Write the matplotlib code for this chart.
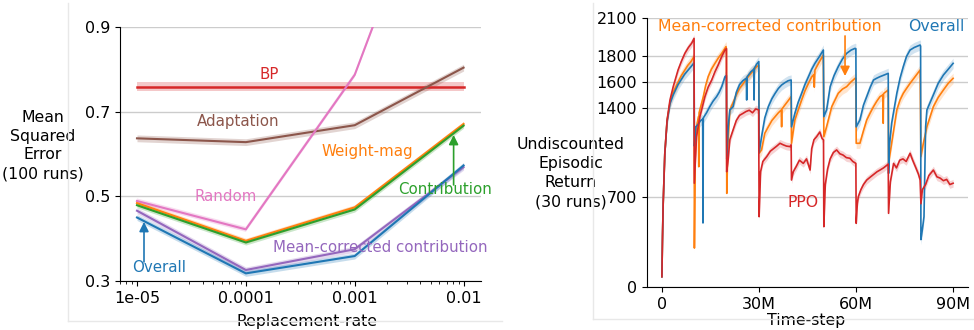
import numpy as np
import matplotlib
matplotlib.use("Agg")
import matplotlib.pyplot as plt
from matplotlib.lines import Line2D

# ---- left panel: MSE vs replacement-rate ----
rates = [1e-5, 1e-4, 1e-3, 1e-2]
bp_mse = [0.759, 0.759, 0.759, 0.759]
adaptation_mse = [0.637, 0.628, 0.668, 0.804]
random_mse = [0.489, 0.422, 0.787, 1.47]
weightmag_mse = [0.484, 0.395, 0.474, 0.671]
contribution_mse = [0.479, 0.391, 0.469, 0.667]
meancorr_mse = [0.466, 0.326, 0.375, 0.569]
overall_mse = [0.450, 0.318, 0.359, 0.573]
bp_err = 0.011
other_err = [0.008, 0.006, 0.006, 0.006, 0.007, 0.007]

# ---- right panel: episodic return vs time-step (millions) ----
ppo = [(0, 80), (0.2, 400), (0.4, 650), (0.9, 1040), (1.6, 1300), (2.5, 1460), (3.5, 1564), (5, 1694),
       (6, 1760), (7.1, 1824), (8.2, 1870), (9.2, 1903), (9.95, 1941),
       (10.02, 810), (10.7, 1173), (11.75, 1330), (13.3, 1486), (14.3, 1560), (15.4, 1616), (16.4, 1680),
       (17.4, 1733), (18.5, 1800), (19.5, 1850), (19.95, 1860),
       (20.02, 900), (20.5, 1000), (21, 1150), (22, 1226), (23, 1300), (24, 1340), (25.1, 1356), (26, 1370),
       (27, 1380), (28, 1360), (29, 1390), (29.9, 1382),
       (30.05, 549), (30.5, 900), (31.2, 980), (32.4, 1018), (33.5, 1060), (34.5, 1080), (35.5, 1100),
       (36.5, 1122), (37.5, 1110), (38.5, 1100), (39.6, 1096), (39.95, 1110),
       (40.05, 835), (40.6, 900), (41.5, 940), (42.5, 990), (43.7, 965), (44.7, 1000), (45.8, 913),
       (46.3, 1080), (47.0, 1150), (47.8, 1173), (48.8, 1210), (49.5, 1160), (49.95, 1148),
       (50.05, 471), (50.5, 800), (51.2, 920), (52, 1000), (53, 1050), (54, 1070), (55, 1040), (56, 1030),
       (57, 1010), (58.1, 1005), (59, 980), (59.95, 965),
       (60.05, 497), (60.4, 650), (60.7, 705), (61.5, 760), (62.3, 800), (63.3, 835), (64.5, 860),
       (65.5, 880), (66.5, 900), (67.4, 913), (68.5, 930), (69.5, 950), (69.95, 960),
       (70.05, 575), (70.6, 820), (71.6, 965), (72.5, 930), (73.5, 990), (74.5, 1000), (75.5, 980),
       (76.7, 1044), (77.5, 990), (78.5, 930), (79.3, 880), (79.8, 835),
       (80.05, 650), (80.5, 760), (81.5, 800), (82.5, 870), (83.9, 913), (85, 860), (86, 850),
       (87, 830), (88, 840), (89, 800), (90, 810)]

overall = [(0, 80), (0.2, 400), (0.4, 650), (0.9, 1040), (1.6, 1290), (2.5, 1430), (3.5, 1500), (5, 1580),
           (6, 1620), (7, 1660), (8, 1690), (9, 1720), (9.95, 1750),
           (10.05, 1100), (10.5, 1250), (11.2, 1270), (12, 1300), (12.6, 1310), (12.7, 500), (12.8, 1320),
           (13.8, 1360), (14.8, 1408), (15.8, 1450), (16.9, 1486), (17.7, 1520), (18.5, 1564),
           (19.5, 1642), (19.95, 1650),
           (20.05, 1000), (20.5, 1250), (21, 1382), (22, 1408), (23, 1520), (24, 1580), (25, 1610),
           (26.1, 1630), (26.2, 1460), (26.3, 1640), (27.5, 1680), (28.4, 1700), (28.5, 1460),
           (28.6, 1710), (29.3, 1740), (29.95, 1760),
           (30.05, 1050), (30.8, 1173), (31.8, 1320), (32.9, 1408), (34, 1470), (35, 1512), (36, 1550),
           (37, 1577), (38, 1595), (39, 1610), (39.95, 1616),
           (40.05, 1250), (41.1, 1356), (42.1, 1440), (43.2, 1512), (44.2, 1580), (45.3, 1642),
           (46.3, 1700), (47.3, 1746), (48.7, 1800), (49.9, 1850),
           (50.05, 1330), (50.9, 1382), (52, 1564), (53.2, 1650), (54.5, 1720), (55.8, 1780),
           (57.1, 1824), (58.5, 1850), (59.7, 1863), (59.95, 1860),
           (60.05, 1250), (61.2, 1304), (62.3, 1420), (63.3, 1486), (64.4, 1560), (65.4, 1616),
           (66.4, 1630), (67.4, 1642), (68.7, 1655), (69.95, 1668),
           (70.05, 887), (70.3, 1100), (71, 1278), (72.6, 1512), (73.6, 1630), (74.6, 1720),
           (75.6, 1800), (76.7, 1850), (78, 1870), (79.8, 1889), (79.95, 1880),
           (80.05, 370), (80.5, 450), (81.0, 549), (81.5, 1250), (81.9, 1382), (83.9, 1500),
           (85.4, 1590), (87, 1655), (88.5, 1700), (90, 1746)]

meancorr = [(0, 80), (0.2, 400), (0.4, 650), (0.9, 1040), (1.6, 1300), (2.5, 1440), (3.5, 1520), (5, 1600),
            (6, 1650), (7, 1690), (8, 1730), (9, 1760), (9.95, 1800),
            (10.05, 304), (10.3, 1000), (10.7, 1250), (11.3, 1330), (11.4, 939), (11.5, 1360),
            (12.8, 1486), (13.5, 1570), (14.3, 1642), (15.3, 1700), (16.4, 1746), (17.5, 1790),
            (18.5, 1824), (19.8, 1876), (19.95, 1860),
            (20.05, 731), (20.4, 1100), (21, 1382), (22, 1440), (23, 1500), (24, 1550), (25.2, 1590),
            (26.3, 1630), (27.3, 1660), (28.3, 1690), (29.3, 1720), (29.95, 1730),
            (30.05, 1044), (30.8, 1070), (31.8, 1200), (32.9, 1251), (34, 1300), (35, 1330), (36, 1360),
            (36.9, 1382), (37.0, 1251), (37.1, 1390), (38.3, 1430), (39.2, 1460), (39.95, 1486),
            (40.05, 1122), (41.1, 1304), (42.1, 1380), (43.2, 1460), (44.2, 1530), (45.3, 1590),
            (46.3, 1640), (47.0, 1660), (47.1, 1560), (47.3, 1694), (48.7, 1760), (49.9, 1811),
            (50.05, 1173), (50.9, 1251), (52.5, 1408), (54.5, 1512), (55.8, 1545), (57.1, 1564),
            (58.4, 1600), (59.7, 1629), (59.95, 1630),
            (60.05, 1122), (61.2, 1122), (62.3, 1220), (63.3, 1304), (64.4, 1360), (65.4, 1408),
            (66.4, 1450), (67.4, 1486), (68.3, 1500), (68.4, 1278), (68.5, 1510), (69.95, 1538),
            (70.05, 965), (71, 1122), (72.6, 1382), (73.6, 1460), (74.6, 1512), (75.6, 1550),
            (76.7, 1590), (78.2, 1640), (79.8, 1694),
            (80.05, 1018), (80.8, 1122), (81.9, 1251), (83.9, 1408), (85.4, 1480), (87, 1538),
            (88.5, 1590), (90, 1629)]

band_halfwidth = {"ppo": 30, "overall": 40, "meancorr": 40}

plt.rcParams['font.family'] = ['DejaVu Sans']
fig = plt.figure(figsize=(9.74, 3.30), dpi=100)

# faint frames around each panel
fig.add_artist(Line2D([68 / 974, 68 / 974], [1 - 3 / 330, 1 - 321 / 330], color='#e8e8e8', lw=1))
fig.add_artist(Line2D([68 / 974, 502 / 974], [1 - 321 / 330, 1 - 321 / 330], color='#e8e8e8', lw=1))
fig.add_artist(Line2D([593 / 974, 593 / 974], [1 - 3 / 330, 1 - 319 / 330], color='#e8e8e8', lw=1))
fig.add_artist(Line2D([593 / 974, 974 / 974], [1 - 319 / 330, 1 - 319 / 330], color='#e8e8e8', lw=1))

TICK = 11.5
LAB = 11.3
ANN_L = 10.8
ANN_R = 11.3

# ---------------- left ----------------
ax1 = fig.add_axes([120 / 974, 1 - 281 / 330, 361 / 974, 254 / 330])
ax1.set_xscale('log')
series = [
    (adaptation_mse, 'tab:brown'),
    (random_mse, 'tab:pink'),
    (weightmag_mse, 'tab:orange'),
    (contribution_mse, 'tab:green'),
    (meancorr_mse, 'tab:purple'),
    (overall_mse, 'tab:blue'),
]
ax1.plot(rates, bp_mse, color='tab:red', lw=1.8)
ax1.fill_between(rates, np.array(bp_mse) - bp_err, np.array(bp_mse) + bp_err,
                 color='tab:red', alpha=0.25, lw=0)
for (vals, c), e in zip(series, other_err):
    v = np.array(vals)
    ax1.plot(rates, v, color=c, lw=1.5)
    ax1.fill_between(rates, v - e, v + e, color=c, alpha=0.25, lw=0)

ax1.set_xlim(10 ** -5.156, 10 ** -1.84)
ax1.set_ylim(0.3, 0.9)
ax1.set_yticks([0.3, 0.5, 0.7, 0.9])
ax1.set_yticklabels(['0.3', '0.5', '0.7', '0.9'])
ax1.set_xticks(rates)
ax1.set_xticklabels(['1e-05', '0.0001', '0.001', '0.01'])
ax1.tick_params(labelsize=TICK)
ax1.grid(axis='y', color='#cccccc', lw=1)
ax1.set_axisbelow(True)
for s in ['top', 'right']:
    ax1.spines[s].set_visible(False)
ax1.set_ylabel('Mean\nSquared\nError\n(100 runs)', rotation=0, fontsize=LAB, ha='center',
               va='center', linespacing=1.3)
ax1.yaxis.set_label_coords(-0.214, 0.533)
ax1.set_xlabel('Replacement-rate', fontsize=LAB, va='center')
ax1.xaxis.set_label_coords(0.517, -0.161)

ax1.text(1.63e-4, 0.787, 'BP', color='tab:red', fontsize=ANN_L, ha='center', va='center')
ax1.text(8.45e-5, 0.676, 'Adaptation', color='tab:brown', fontsize=ANN_L, ha='center', va='center')
ax1.text(1.31e-3, 0.605, 'Weight-mag', color='tab:orange', fontsize=ANN_L, ha='center', va='center')
ax1.text(6.56e-5, 0.499, 'Random', color='tab:pink', fontsize=ANN_L, ha='center', va='center')
ax1.text(2.53e-3, 0.517, 'Contribution', color='tab:green', fontsize=ANN_L, ha='left', va='center',
         clip_on=False)
ax1.text(1.77e-4, 0.380, 'Mean-corrected contribution', color='tab:purple', fontsize=ANN_L,
         ha='left', va='center', clip_on=False)
ax1.text(9.0e-6, 0.331, 'Overall', color='tab:blue', fontsize=ANN_L, ha='left', va='center')
ax1.annotate('', xy=(1.16e-5, 0.4395), xytext=(1.16e-5, 0.345),
             arrowprops=dict(arrowstyle='-|>', color='tab:blue', lw=1.2, mutation_scale=14,
                             shrinkA=0, shrinkB=0))
ax1.annotate('', xy=(8.1e-3, 0.645), xytext=(8.1e-3, 0.527),
             arrowprops=dict(arrowstyle='-|>', color='tab:green', lw=1.2, mutation_scale=14,
                             shrinkA=0, shrinkB=0))

# ---------------- right ----------------
ax2 = fig.add_axes([647 / 974, 1 - 287 / 330, 321 / 974, 269 / 330])
for name, data, c in [('meancorr', meancorr, 'tab:orange'), ('overall', overall, 'tab:blue'),
                      ('ppo', ppo, 'tab:red')]:
    t = np.array([p[0] for p in data])
    v = np.array([p[1] for p in data])
    hw = band_halfwidth[name]
    ax2.fill_between(t, v - hw, v + hw, color=c, alpha=0.2, lw=0)
    ax2.plot(t, v, color=c, lw=1.2)

ax2.set_xlim(-4.6, 94.6)
ax2.set_ylim(0, 2100)
ax2.set_yticks([0, 700, 1400, 1600, 1800, 2100])
ax2.set_xticks([0, 30, 60, 90])
ax2.set_xticklabels(['0', '30M', '60M', '90M'])
ax2.tick_params(labelsize=TICK)
ax2.grid(axis='y', color='#cccccc', lw=1)
ax2.set_axisbelow(True)
for s in ['top', 'right']:
    ax2.spines[s].set_visible(False)
ax2.set_ylabel('Undiscounted\nEpisodic\nReturn\n(30 runs)', rotation=0, fontsize=LAB,
               ha='center', va='center', linespacing=1.35)
ax2.yaxis.set_label_coords(-0.237, 0.424)
ax2.set_xlabel('Time-step', fontsize=LAB, va='center')
ax2.xaxis.set_label_coords(0.495, -0.126)

ax2.text(-1.24, 2030, 'Mean-corrected contribution', color='tab:orange', fontsize=ANN_R,
         ha='left', va='center')
ax2.text(76.1, 2030, 'Overall', color='tab:blue', fontsize=ANN_R, ha='left', va='center')
ax2.text(43.6, 656, 'PPO', color='tab:red', fontsize=ANN_R, ha='center', va='center')
ax2.annotate('', xy=(56.6, 1647), xytext=(56.6, 1960),
             arrowprops=dict(arrowstyle='-|>', color='tab:orange', lw=1.2, mutation_scale=14,
                             shrinkA=0, shrinkB=0))

fig.savefig('out.png', dpi=100)
